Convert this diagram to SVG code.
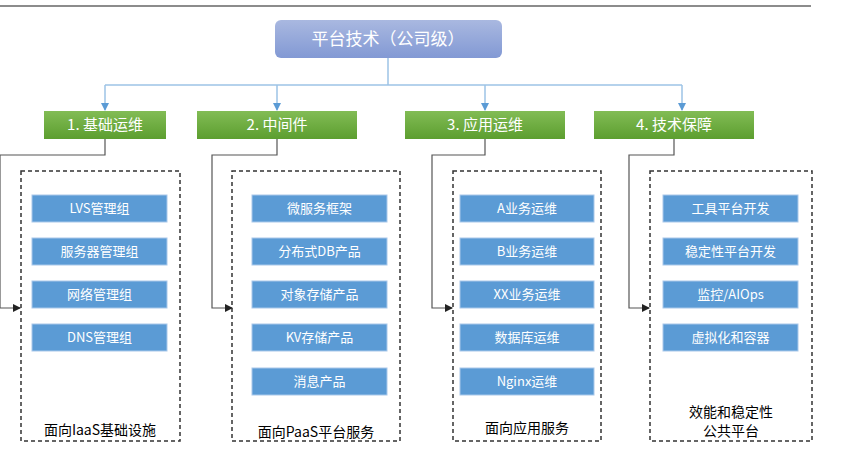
<svg xmlns="http://www.w3.org/2000/svg" width="844" height="454" viewBox="0 0 844 454">
<style>
text{font-family:"Noto Sans CJK SC","Liberation Sans",sans-serif;text-anchor:middle}
.g{fill:url(#gg)}
.gt{fill:#fff;font-size:15px}
.b{fill:#5b9bd5;stroke:#a9c8ea;stroke-width:1}
.bt{fill:#fff;font-size:13px}
.d{fill:none;stroke:#333;stroke-width:1.5;stroke-dasharray:4,3}
.lt{fill:#000;font-size:14px}
.blue{fill:none;stroke:#9dc3e6;stroke-width:1.5}
.gray{fill:none;stroke:#555;stroke-width:1.2}
</style>
<defs>
<linearGradient id="tg" x1="0" y1="0" x2="0" y2="1"><stop offset="0" stop-color="#a9b8e0"/><stop offset="1" stop-color="#8299d4"/></linearGradient>
<linearGradient id="gg" x1="0" y1="0" x2="0" y2="1"><stop offset="0" stop-color="#82bc55"/><stop offset="1" stop-color="#5c9e2f"/></linearGradient>
<marker id="ab" markerWidth="8" markerHeight="8" refX="4" refY="6" orient="auto" markerUnits="userSpaceOnUse" viewBox="0 0 8 8"><path d="M0,0 L8,0 L4,7 z" fill="#5b9bd5" transform="rotate(-90 4 4)"/></marker>
<marker id="ag" markerWidth="8" markerHeight="8" refX="7" refY="4" orient="auto" markerUnits="userSpaceOnUse"><path d="M0,0 L8,4 L0,8 z" fill="#222"/></marker>
<marker id="ad" markerWidth="8" markerHeight="8" refX="7" refY="4" orient="auto" markerUnits="userSpaceOnUse"><path d="M0,0 L8,4 L0,8 z" fill="#5b9bd5"/></marker>
</defs>
<line x1="0" y1="6" x2="811" y2="6" stroke="#666" stroke-width="1.5"/>
<g id="connectors">
<path class="blue" d="M388,58 V85 M105,85 H682"/>
<path class="blue" d="M105,85 V110" marker-end="url(#ad)"/>
<path class="blue" d="M277,85 V110" marker-end="url(#ad)"/>
<path class="blue" d="M485,85 V110" marker-end="url(#ad)"/>
<path class="blue" d="M682,85 V110" marker-end="url(#ad)"/>
<path class="gray" d="M105,139 V155 H0 V308 H20" marker-end="url(#ag)"/>
<path class="gray" d="M277,139 V155 H212 V308 H232" marker-end="url(#ag)"/>
<path class="gray" d="M485,139 V155 H432 V308 H452" marker-end="url(#ag)"/>
<path class="gray" d="M674,139 V155 H629 V308 H649" marker-end="url(#ag)"/>
</g>
<g id="top"><rect x="275" y="20" width="227" height="38" rx="6" fill="url(#tg)"/><text x="388" y="45" fill="#fff" font-size="17">平台技术（公司级）</text></g>
<g id="g1"><rect class="g" x="44" y="111" width="122" height="28"/><text class="gt" x="105" y="130">1. 基础运维</text></g>
<g id="g2"><rect class="g" x="197" y="111" width="160" height="28"/><text class="gt" x="277" y="130">2. 中间件</text></g>
<g id="g3"><rect class="g" x="405" y="111" width="160" height="28"/><text class="gt" x="485" y="130">3. 应用运维</text></g>
<g id="g4"><rect class="g" x="594" y="111" width="160" height="28"/><text class="gt" x="674" y="130">4. 技术保障</text></g>
<g id="c1"><rect class="d" x="21" y="171" width="159" height="270"/>
<rect class="b" x="32" y="195" width="135" height="27"/><text class="bt" x="99.5" y="213">LVS管理组</text>
<rect class="b" x="32" y="238" width="135" height="27"/><text class="bt" x="99.5" y="256">服务器管理组</text>
<rect class="b" x="32" y="281" width="135" height="27"/><text class="bt" x="99.5" y="299">网络管理组</text>
<rect class="b" x="32" y="324" width="135" height="27"/><text class="bt" x="99.5" y="342">DNS管理组</text>
<text class="lt" x="100" y="435">面向IaaS基础设施</text></g>
<g id="c2"><rect class="d" x="232" y="171" width="168" height="270"/>
<rect class="b" x="252" y="195" width="135" height="27"/><text class="bt" x="319.5" y="213">微服务框架</text>
<rect class="b" x="252" y="238" width="135" height="27"/><text class="bt" x="319.5" y="256">分布式DB产品</text>
<rect class="b" x="252" y="281" width="135" height="27"/><text class="bt" x="319.5" y="299">对象存储产品</text>
<rect class="b" x="252" y="324" width="135" height="27"/><text class="bt" x="319.5" y="342">KV存储产品</text>
<rect class="b" x="252" y="368" width="135" height="27"/><text class="bt" x="319.5" y="386">消息产品</text>
<text class="lt" x="316" y="437">面向PaaS平台服务</text></g>
<g id="c3"><rect class="d" x="453" y="171" width="148" height="270"/>
<rect class="b" x="460" y="195" width="134" height="27"/><text class="bt" x="527" y="213">A业务运维</text>
<rect class="b" x="460" y="238" width="134" height="27"/><text class="bt" x="527" y="256">B业务运维</text>
<rect class="b" x="460" y="281" width="134" height="27"/><text class="bt" x="527" y="299">XX业务运维</text>
<rect class="b" x="460" y="324" width="134" height="27"/><text class="bt" x="527" y="342">数据库运维</text>
<rect class="b" x="460" y="368" width="134" height="27"/><text class="bt" x="527" y="386">Nginx运维</text>
<text class="lt" x="527" y="433">面向应用服务</text></g>
<g id="c4"><rect class="d" x="650" y="171" width="162" height="270"/>
<rect class="b" x="663" y="195" width="135" height="27"/><text class="bt" x="730.5" y="213">工具平台开发</text>
<rect class="b" x="663" y="238" width="135" height="27"/><text class="bt" x="730.5" y="256">稳定性平台开发</text>
<rect class="b" x="663" y="281" width="135" height="27"/><text class="bt" x="730.5" y="299">监控/AIOps</text>
<rect class="b" x="663" y="324" width="135" height="27"/><text class="bt" x="730.5" y="342">虚拟化和容器</text>
<text class="lt" x="731" y="417">效能和稳定性</text><text class="lt" x="731" y="436">公共平台</text></g>
</svg>
